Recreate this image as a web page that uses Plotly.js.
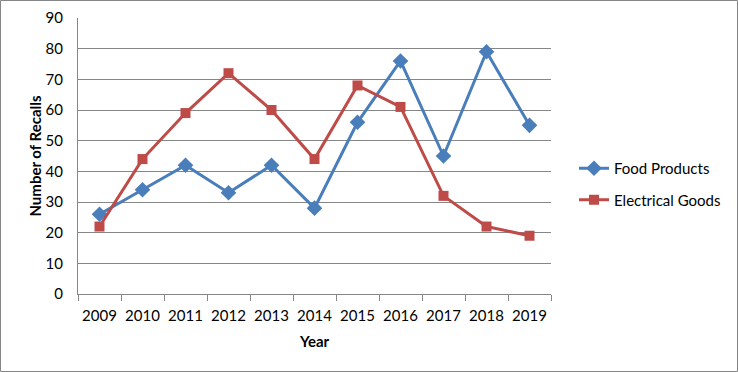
<!DOCTYPE html>
<html><head><meta charset="utf-8">
<script src="https://cdn.plot.ly/plotly-3.0.1.min.js"></script>
<style>html,body{margin:0;padding:0;background:#fff}#chart{width:738px;height:372px}</style>
</head><body><div id="chart"></div>
<script>
const years = ['2009','2010','2011','2012','2013','2014','2015','2016','2017','2018','2019'];
const foodProducts = [26, 34, 42, 33, 42, 28, 56, 76, 45, 79, 55];
const electricalGoods = [22, 44, 59, 72, 60, 44, 68, 61, 32, 22, 19];
const yTicks = [0,10,20,30,40,50,60,70,80,90];

const W = 738, H = 372;
const m = {l: 78, r: 187, t: 18, b: 78};
const pw = W - m.l - m.r, ph = H - m.t - m.b;
const font = 'Lato, "Open Sans", sans-serif';

const traces = [
  {x: years, y: foodProducts, name: 'Food Products', type: 'scatter', mode: 'lines+markers', legendgroup: 'a',
   line: {color: '#4a7ebb', width: 3}, marker: {symbol: 'diamond', size: 12, color: '#4a7ebb'}},
  {x: years, y: electricalGoods, name: 'Electrical Goods', type: 'scatter', mode: 'lines+markers', legendgroup: 'b',
   line: {color: '#be4b48', width: 3}, marker: {symbol: 'square', size: 10, color: '#be4b48'}}
];

const layout = {
  width: W, height: H,
  margin: m,
  paper_bgcolor: '#fff', plot_bgcolor: '#fff',
  font: {family: font, size: 15, color: '#000'},
  showlegend: true,
  legend: {x: (574 - m.l) / pw, y: (294 - 184) / ph, xanchor: 'left', yanchor: 'middle',
           traceorder: 'grouped', tracegroupgap: 9,
           font: {family: font, size: 15, color: '#000'}, itemwidth: 30},
  xaxis: {type: 'category', range: [-0.5, 10.5], tickson: 'boundaries', ticks: 'outside', ticklen: 6,
          tickcolor: '#868686', showline: true, linecolor: '#868686', linewidth: 1, showgrid: false,
          tickangle: 0, automargin: false,
          tickfont: {family: font, size: 15}, ticklabelstandoff: 8,
          title: {text: '<b>Year</b>', font: {family: font, size: 15}, standoff: 13}},
  yaxis: {range: [0, 90], tickvals: yTicks, showline: true, linecolor: '#868686', linewidth: 1,
          showgrid: true, gridcolor: '#868686', gridwidth: 1, zeroline: false, ticks: '',
          automargin: false,
          tickfont: {family: font, size: 15}, ticklabelstandoff: 11,
          title: {text: '<b>Number of Recalls</b>', font: {family: font, size: 15}, standoff: 0}},
  shapes: [{type: 'rect', xref: 'paper', yref: 'paper',
            x0: (-m.l + 0.5) / pw, x1: (W - m.l - 0.5) / pw,
            y0: (-m.b + 0.5) / ph, y1: (H - m.b - 0.5) / ph,
            line: {color: '#868686', width: 1}, layer: 'below'}]
};

Plotly.newPlot('chart', traces, layout, {displayModeBar: false, staticPlot: true});
</script></body></html>
